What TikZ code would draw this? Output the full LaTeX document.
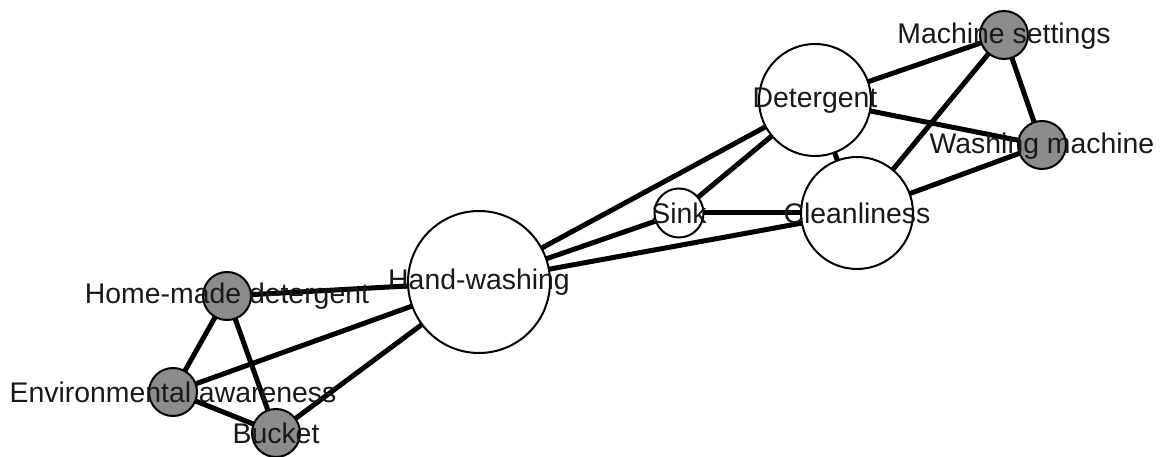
\documentclass[tikz,border=0pt]{standalone}
\usepackage{fontspec}
\setmainfont{Liberation Sans}
\begin{document}
\begin{tikzpicture}[x=1pt,y=-1pt,
  edge/.style={line width=5pt},
  big/.style={circle,draw=black,line width=2pt,fill=white,inner sep=0pt},
  small/.style={circle,draw=black,line width=2pt,fill=white!55!black,inner sep=0pt,minimum size=48pt},
  lab/.style={text=black!90,font=\fontsize{28.4}{34}\selectfont,inner sep=0pt}]
\useasboundingbox (0,0) rectangle (1162,457);
% node positions
\coordinate (hwc) at (479,282);
\coordinate (dtc) at (815,100);
\coordinate (clc) at (857,213);
\coordinate (skc) at (679,213);
\coordinate (msc) at (1004,35);
\coordinate (wmc) at (1042,145);
\coordinate (hmc) at (227,296);
\coordinate (eac) at (173,392);
\coordinate (bkc) at (276,433);
% edges
\draw[edge] (hwc) -- (dtc);
\draw[edge] (hwc) -- (skc);
\draw[edge] (hwc) -- (clc);
\draw[edge] (hwc) -- (hmc);
\draw[edge] (hwc) -- (eac);
\draw[edge] (hwc) -- (bkc);
\draw[edge] (skc) -- (dtc);
\draw[edge] (skc) -- (clc);
\draw[edge] (dtc) -- (clc);
\draw[edge] (dtc) -- (msc);
\draw[edge] (dtc) -- (wmc);
\draw[edge] (clc) -- (msc);
\draw[edge] (clc) -- (wmc);
\draw[edge] (msc) -- (wmc);
\draw[edge] (hmc) -- (eac);
\draw[edge] (hmc) -- (bkc);
\draw[edge] (eac) -- (bkc);
% circles
\node[big,minimum size=142pt] (hw) at (hwc) {};
\node[big,minimum size=112pt] (dt) at (dtc) {};
\node[big,minimum size=112pt] (cl) at (clc) {};
\node[big,minimum size=49pt] (sk) at (skc) {};
\node[small] (ms) at (msc) {};
\node[small] (wm) at (wmc) {};
\node[small] (hm) at (hmc) {};
\node[small] (ea) at (eac) {};
\node[small] (bk) at (bkc) {};
% labels
\node[lab] (lhw) at (hwc) {Hand-washing};
\node[lab] (ldt) at ([yshift=-1pt]dtc) {Detergent};
\node[lab] (lcl) at (clc) {Cleanliness};
\node[lab] (lsk) at (skc) {Sink};
\node[lab] (lms) at ([yshift=-1pt]msc) {Machine settings};
\node[lab] (lwm) at ([yshift=-1pt]wmc) {Washing machine};
\node[lab] (lhm) at (hmc) {Home-made detergent};
\node[lab] (lea) at (eac) {Environmental awareness};
\node[lab] (lbk) at (bkc) {Bucket};
\end{tikzpicture}
\end{document}
